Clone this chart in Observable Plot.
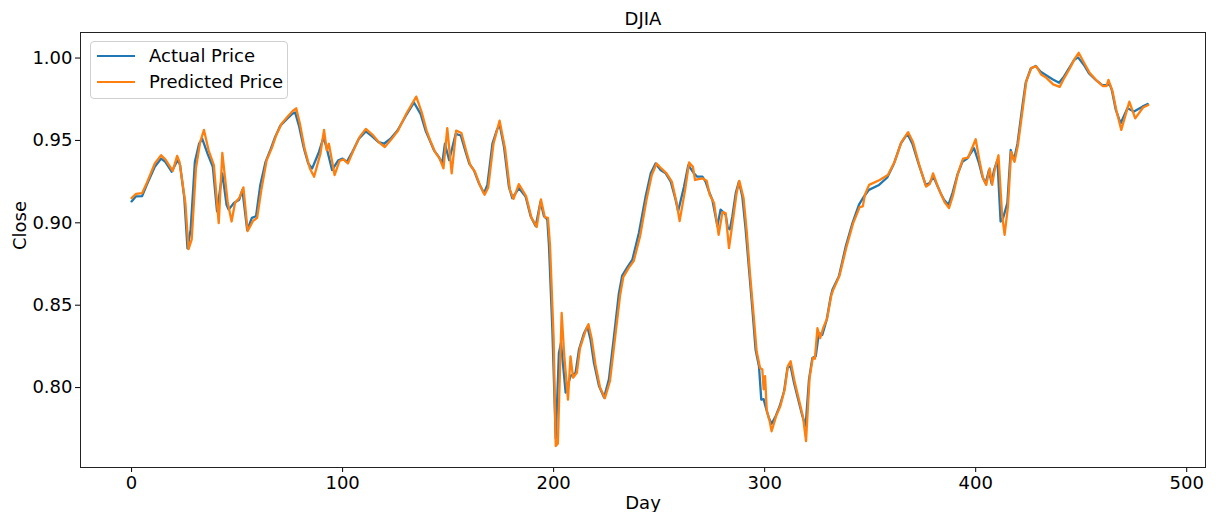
<!DOCTYPE html>
<html>
<head>
<meta charset="utf-8">
<script src="https://cdn.jsdelivr.net/npm/d3@7"></script>
<script src="https://cdn.jsdelivr.net/npm/@observablehq/plot@0.6"></script>
<style>
  html, body { margin: 0; padding: 0; background: #fff; }
  #chart { position: relative; width: 1225px; height: 512px; font-family: "DejaVu Sans", sans-serif; }
  .legend { position: absolute; left: 90px; top: 41px; width: 196px; height: 56px;
    border: 1px solid #d0d0d0; border-radius: 4px; background: rgba(255,255,255,0.8);
    font-size: 18px; color: #000; }
  .legend .item { position: absolute; left: 6px; display: flex; align-items: center; white-space: nowrap; }
  .legend .swatch { width: 38px; height: 2px; margin-right: 14px; flex: none; }
</style>
</head>
<body>
<div id="chart"></div>
<script>
// Trading day index and normalised closing level (actual)
const actualDay = [0, 2, 5, 7, 11, 14, 16, 19, 21, 22, 23, 25, 26.5, 28, 30, 32, 33.5, 36, 38.5, 40.5, 43, 45, 46, 48.5, 51, 52.5, 54.8, 57, 59, 61, 63.5, 66, 68, 70.5, 74, 76, 77.5, 79.3, 81.7, 83.7, 85.6, 88.8, 91, 92.7, 95, 98, 100, 102, 104.6, 107.7, 111, 114, 117, 119.6, 122.7, 126, 130, 133.8, 137, 139.3, 141, 143.3, 145.6, 147.2, 148.5, 150.5, 153.6, 156, 158.3, 160, 162.2, 164.6, 167, 168.6, 171, 173.3, 174.5, 176.5, 178.8, 180.4, 183.6, 186.7, 189.1, 191.5, 193.8, 195.4, 197, 197.8, 199.4, 201, 202.5, 203.5, 205.7, 208, 210.4, 212, 214.4, 216, 217.5, 219.1, 221.5, 223.9, 226.2, 228.6, 230.9, 232.5, 234.9, 237.3, 240.4, 243.6, 246, 248.3, 250.7, 253.1, 255.5, 257.8, 259, 261.8, 263.8, 266.5, 268, 270.5, 272, 273.6, 275.2, 277.6, 279.1, 281.5, 282.5, 283.5, 284.7, 286.3, 287.8, 289.4, 291, 292.6, 294.2, 295.7, 297.3, 298.4, 299.5, 300.8, 302, 303.3, 305.2, 307.1, 309.2, 310.8, 312.3, 313.9, 315.5, 317.9, 319.4, 321, 322.6, 324.2, 325.7, 327.3, 329.4, 331.3, 332.1, 335.2, 338.4, 341.6, 344.7, 347.1, 349.4, 354.2, 358.1, 361.3, 364.5, 367.6, 370, 373.1, 376.3, 378, 380, 382, 383.4, 385, 387.1, 389, 391.3, 393.7, 396.1, 399.2, 401.6, 403.2, 404.7, 406.3, 407.5, 408.7, 410.3, 411.8, 413, 415, 416.6, 418.1, 419.8, 422.1, 423.7, 426.1, 428.4, 430.8, 433.2, 436.4, 439.5, 441.8, 444.2, 446.6, 448.5, 451.3, 453.7, 456.9, 460, 462, 463.5, 464.5, 466.4, 468.7, 471.9, 475, 479, 481.5];
const actualClose = [0.9130, 0.9160, 0.9162, 0.9225, 0.9340, 0.9390, 0.9370, 0.9310, 0.9360, 0.9380, 0.9350, 0.9150, 0.8845, 0.8960, 0.9370, 0.9480, 0.9510, 0.9420, 0.9340, 0.9070, 0.9300, 0.9110, 0.9080, 0.9120, 0.9140, 0.9200, 0.8955, 0.9030, 0.9040, 0.9230, 0.9370, 0.9450, 0.9520, 0.9590, 0.9635, 0.9660, 0.9670, 0.9590, 0.9450, 0.9360, 0.9330, 0.9430, 0.9520, 0.9440, 0.9320, 0.9380, 0.9390, 0.9370, 0.9430, 0.9510, 0.9555, 0.9525, 0.9490, 0.9480, 0.9510, 0.9560, 0.9650, 0.9730, 0.9660, 0.9560, 0.9510, 0.9440, 0.9400, 0.9360, 0.9480, 0.9380, 0.9540, 0.9530, 0.9430, 0.9360, 0.9320, 0.9240, 0.9180, 0.9230, 0.9480, 0.9570, 0.9590, 0.9460, 0.9220, 0.9150, 0.9210, 0.9160, 0.9040, 0.8980, 0.9130, 0.9040, 0.9020, 0.8860, 0.8350, 0.7690, 0.8210, 0.8270, 0.7970, 0.8070, 0.8090, 0.8230, 0.8330, 0.8370, 0.8290, 0.8150, 0.8010, 0.7940, 0.8050, 0.8310, 0.8570, 0.8680, 0.8730, 0.8776, 0.8938, 0.9160, 0.9300, 0.9360, 0.9320, 0.9300, 0.9250, 0.9140, 0.9070, 0.9220, 0.9350, 0.9300, 0.9280, 0.9280, 0.9250, 0.9190, 0.9140, 0.8980, 0.9080, 0.9050, 0.8970, 0.8960, 0.9040, 0.9180, 0.9250, 0.9160, 0.8958, 0.8715, 0.8473, 0.8230, 0.8130, 0.7927, 0.7930, 0.7867, 0.7816, 0.7780, 0.7826, 0.7887, 0.7978, 0.8120, 0.8130, 0.8029, 0.7947, 0.7826, 0.7766, 0.8048, 0.8180, 0.8190, 0.8331, 0.8320, 0.8412, 0.8553, 0.8594, 0.8675, 0.8856, 0.8998, 0.9110, 0.9160, 0.9200, 0.9230, 0.9275, 0.9360, 0.9480, 0.9540, 0.9480, 0.9352, 0.9230, 0.9240, 0.9280, 0.9220, 0.9180, 0.9140, 0.9110, 0.9180, 0.9290, 0.9370, 0.9392, 0.9453, 0.9360, 0.9280, 0.9240, 0.9320, 0.9240, 0.9320, 0.9380, 0.9008, 0.9030, 0.9120, 0.9442, 0.9380, 0.9480, 0.9705, 0.9850, 0.9937, 0.9952, 0.9917, 0.9897, 0.9871, 0.9850, 0.9887, 0.9937, 0.9988, 1.0004, 0.9958, 0.9907, 0.9867, 0.9836, 0.9836, 0.9840, 0.9806, 0.9685, 0.9604, 0.9695, 0.9675, 0.9705, 0.9721];

// Model output on the same days
const predictedDay = [0, 2, 5, 7, 11, 14, 16, 19.5, 21.6, 22.7, 25.5, 27, 28.5, 30.5, 32.5, 34.3, 36.5, 39, 41.3, 43, 45.5, 47.4, 49, 51, 53, 55, 57.5, 59.5, 61.5, 64, 66.5, 68.5, 71, 74, 76.5, 78, 79.8, 82, 84.5, 86.5, 89.5, 91.2, 92.5, 93.5, 96.2, 98.5, 100.5, 102.5, 105, 108, 111, 114.5, 117.5, 120, 123, 126.3, 130.3, 134.9, 137.5, 139.8, 141.5, 143.8, 146, 147.8, 149.6, 151.7, 153.8, 156.3, 158.7, 160.5, 162.7, 165, 167.3, 169, 171.5, 174.4, 177, 179.3, 181, 183.5, 187, 189.5, 192, 194, 195.8, 197.3, 198.3, 200, 201, 202, 203.8, 205, 206.8, 208, 209.2, 211, 212.5, 215, 216.5, 218, 219.8, 222, 224.3, 226.7, 229, 231.5, 233, 235.5, 238, 241, 244, 246.5, 248.8, 251, 253.5, 256, 258.3, 259.7, 262.3, 264.2, 266, 267, 270.5, 272.5, 274, 276, 278.2, 280, 281.5, 283.1, 285, 286.7, 288, 290, 291.5, 293, 294.7, 296.2, 297.8, 298.9, 299.5, 300.2, 301, 302.3, 303.3, 305.5, 307.5, 309.5, 311, 312.3, 314.3, 316, 318.2, 319.6, 321.3, 322.8, 323.8, 325, 326.3, 327.7, 329.6, 331.6, 332.4, 335.5, 338.7, 342, 345, 346.5, 347.5, 349.5, 354.5, 358.4, 361.6, 364.8, 368, 370.3, 373.4, 376.5, 378.2, 379.8, 382.2, 383.7, 385.3, 387.4, 389.3, 391.6, 394, 396.4, 400, 401.9, 403.5, 405, 406.6, 407.8, 409, 410.8, 412.5, 413.7, 415.3, 416.8, 418.4, 420, 422.4, 424, 426.4, 428.7, 431, 433.5, 436.7, 439.8, 442, 444.5, 446.9, 448.8, 451.6, 454, 457.2, 460.3, 462, 462.9, 464.8, 466.7, 469, 472.8, 475.6, 479.3, 481.8];
const predictedClose = [0.9150, 0.9175, 0.9180, 0.9235, 0.9360, 0.9410, 0.9385, 0.9315, 0.9406, 0.9370, 0.9120, 0.8840, 0.8900, 0.9330, 0.9490, 0.9564, 0.9440, 0.9350, 0.8998, 0.9424, 0.9130, 0.9008, 0.9120, 0.9150, 0.9215, 0.8950, 0.9010, 0.9030, 0.9200, 0.9380, 0.9455, 0.9530, 0.9600, 0.9645, 0.9680, 0.9695, 0.9600, 0.9450, 0.9330, 0.9280, 0.9420, 0.9564, 0.9440, 0.9480, 0.9290, 0.9375, 0.9385, 0.9360, 0.9435, 0.9520, 0.9570, 0.9530, 0.9485, 0.9460, 0.9505, 0.9560, 0.9665, 0.9766, 0.9670, 0.9560, 0.9500, 0.9430, 0.9390, 0.9330, 0.9574, 0.9300, 0.9560, 0.9545, 0.9430, 0.9350, 0.9310, 0.9230, 0.9170, 0.9215, 0.9480, 0.9620, 0.9450, 0.9200, 0.9145, 0.9235, 0.9160, 0.9030, 0.8975, 0.9142, 0.9035, 0.9030, 0.8860, 0.8300, 0.7645, 0.7660, 0.8453, 0.8200, 0.7927, 0.8190, 0.8060, 0.8090, 0.8240, 0.8340, 0.8385, 0.8300, 0.8140, 0.8000, 0.7935, 0.8040, 0.8290, 0.8560, 0.8670, 0.8725, 0.8770, 0.8920, 0.9140, 0.9290, 0.9360, 0.9330, 0.9300, 0.9250, 0.9120, 0.9010, 0.9200, 0.9366, 0.9340, 0.9260, 0.9270, 0.9255, 0.9170, 0.9120, 0.8927, 0.9065, 0.9059, 0.8847, 0.9020, 0.9180, 0.9255, 0.9150, 0.8950, 0.8700, 0.8450, 0.8220, 0.8120, 0.8110, 0.7990, 0.8069, 0.7860, 0.7800, 0.7735, 0.7830, 0.7890, 0.7990, 0.8130, 0.8160, 0.8030, 0.7940, 0.7820, 0.7675, 0.8060, 0.8180, 0.8175, 0.8360, 0.8300, 0.8360, 0.8420, 0.8560, 0.8590, 0.8680, 0.8850, 0.9000, 0.9095, 0.9100, 0.9170, 0.9230, 0.9260, 0.9290, 0.9370, 0.9490, 0.9550, 0.9490, 0.9345, 0.9220, 0.9235, 0.9300, 0.9215, 0.9170, 0.9125, 0.9090, 0.9170, 0.9300, 0.9390, 0.9395, 0.9507, 0.9370, 0.9270, 0.9230, 0.9330, 0.9230, 0.9320, 0.9410, 0.9050, 0.8927, 0.9100, 0.9430, 0.9370, 0.9470, 0.9700, 0.9860, 0.9940, 0.9950, 0.9900, 0.9880, 0.9840, 0.9825, 0.9880, 0.9935, 0.9995, 1.0032, 0.9965, 0.9910, 0.9865, 0.9830, 0.9830, 0.9867, 0.9800, 0.9680, 0.9564, 0.9735, 0.9634, 0.9700, 0.9715];

const xTicks = [0, 100, 200, 300, 400, 500];
const yTicks = [0.80, 0.85, 0.90, 0.95, 1.00];
const seriesNames = ["Actual Price", "Predicted Price"];
const seriesColors = ["#1f77b4", "#ff7f0e"];

const actual = actualDay.map((d, i) => ({day: d, close: actualClose[i]}));
const predicted = predictedDay.map((d, i) => ({day: d, close: predictedClose[i]}));

const chart = Plot.plot({
  width: 1225,
  height: 512,
  marginLeft: 80,
  marginRight: 20,
  marginTop: 32,
  marginBottom: 45,
  style: {fontFamily: "DejaVu Sans, sans-serif", fontSize: "18px", background: "white", color: "black"},
  x: {domain: [-24.2, 508.9]},
  y: {domain: [0.7515, 1.0155]},
  marks: [
    Plot.axisX({ticks: xTicks, tickSize: 5, tickPadding: 4, label: null, tickFormat: d3.format("d")}),
    Plot.axisY({ticks: yTicks, tickSize: 5, tickPadding: 3, label: null, tickFormat: d3.format(".2f")}),
    Plot.line(actual, {x: "day", y: "close", stroke: seriesColors[0], strokeWidth: 2.3}),
    Plot.line(predicted, {x: "day", y: "close", stroke: seriesColors[1], strokeWidth: 2.3}),
    Plot.frame({stroke: "#222", strokeWidth: 1}),
    Plot.text(["DJIA"], {text: d => d, frameAnchor: "top", dy: -20, fontSize: 18}),
    Plot.text(["Day"], {text: d => d, frameAnchor: "bottom", dy: 41, fontSize: 18}),
    Plot.text(["Close"], {text: d => d, frameAnchor: "left", dx: -60, rotate: -90, fontSize: 18})
  ]
});

const host = document.getElementById("chart");
host.appendChild(chart);

// Legend box in the upper-left corner of the plot area
const legend = document.createElement("div");
legend.className = "legend";
seriesNames.forEach((name, i) => {
  const item = document.createElement("div");
  item.className = "item";
  item.style.top = (i === 0 ? 3 : 29) + "px";
  const sw = document.createElement("span");
  sw.className = "swatch";
  sw.style.background = seriesColors[i];
  const label = document.createElement("span");
  label.textContent = name;
  item.appendChild(sw);
  item.appendChild(label);
  legend.appendChild(item);
});
host.appendChild(legend);
</script>
</body>
</html>
